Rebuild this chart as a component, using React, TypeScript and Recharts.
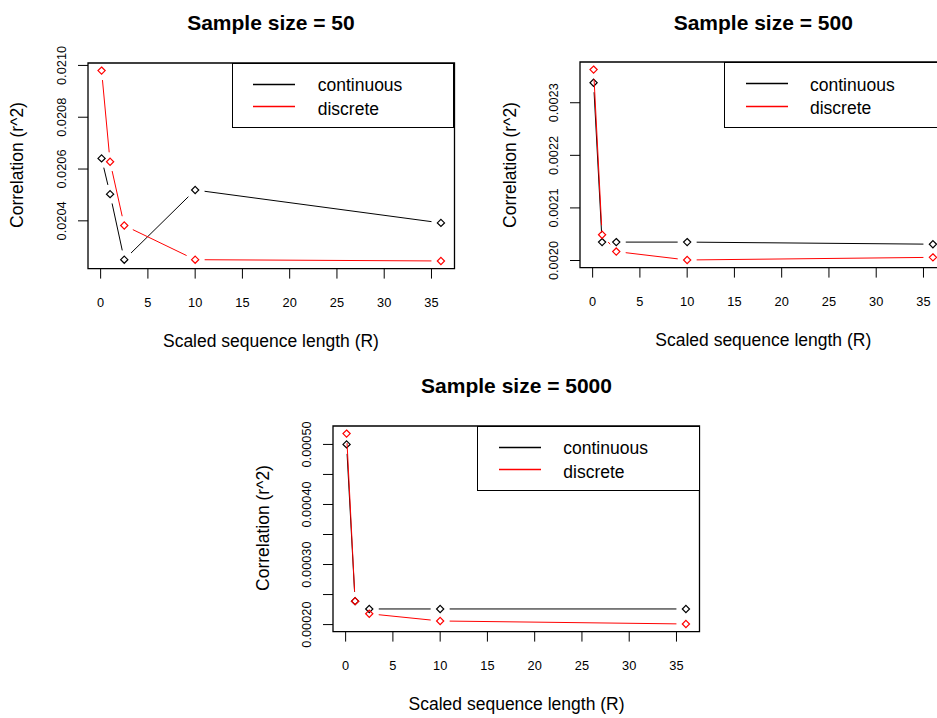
import React from 'react';
import { LineChart, Line, XAxis, YAxis, ReferenceArea } from 'recharts';

// ---- data ----
const xValues = [0.1, 1, 2.5, 10, 36];
const xTicks = [0, 5, 10, 15, 20, 25, 30, 35];

const continuous50 = [0.020641, 0.020503, 0.02025, 0.020519, 0.020392];
const discrete50 = [0.02098, 0.020628, 0.020382, 0.02025, 0.020245];
const yTicks50 = [0.0204, 0.0206, 0.0208, 0.021];

const continuous500 = [0.002338, 0.002035, 0.002035, 0.002035, 0.002031];
const discrete500 = [0.002363, 0.002049, 0.002017, 0.002001, 0.002006];
const yTicks500 = [0.002, 0.0021, 0.0022, 0.0023];

const continuous5000 = [0.0005, 0.000239, 0.000226, 0.000226, 0.000226];
const discrete5000 = [0.000518, 0.000239, 0.000218, 0.000206, 0.000201];
const yTicks5000 = [0.0002, 0.00025, 0.0003, 0.00035, 0.0004, 0.00045, 0.0005];

const seriesNames = ['continuous', 'discrete'];
const seriesColors = ['#000000', '#ff0000'];

// ---- layout ----
const FONT = '"Liberation Sans", Arial, sans-serif';
const ML = 90;
const MT = 62;
const PW = 366.5;
const PH = 205.6;
const MR = 10;
const MB = 92;
const AXW = 30;
const GAP = 9.5;
const DS = 3.6;
const TICK_FONT = 12.8;

const pad = (vals: number[]) => {
  const lo = Math.min(...vals);
  const hi = Math.max(...vals);
  const d = (hi - lo) * 0.04;
  return [lo - d, hi + d];
};

// R type="b": open diamonds, connecting segments stop short of each point.
// Point positions (cx, cy) come from Recharts' own scales.
const makeDot = (color: string) => {
  const prev: ({ x: number; y: number } | undefined)[] = [];
  return (props: any) => {
    const { cx, cy, payload } = props;
    let index = typeof props.index === 'number' ? props.index : -1;
    if (payload && typeof payload.x === 'number') {
      const k = xValues.indexOf(payload.x);
      if (k >= 0) index = k;
    }
    if (cx == null || cy == null) return <g key={`e-${index}`} />;
    prev[index] = { x: cx, y: cy };
    let seg: React.ReactNode = null;
    const p = index > 0 ? prev[index - 1] : undefined;
    if (p) {
      const dx = cx - p.x;
      const dy = cy - p.y;
      const L = Math.hypot(dx, dy);
      if (L > 2 * GAP) {
        const ux = dx / L;
        const uy = dy / L;
        seg = (
          <line
            x1={p.x + ux * GAP}
            y1={p.y + uy * GAP}
            x2={cx - ux * GAP}
            y2={cy - uy * GAP}
            stroke={color}
            strokeWidth={1}
          />
        );
      }
    }
    return (
      <g key={`d-${index}`}>
        {seg}
        <path
          d={`M${cx},${cy - DS} L${cx + DS},${cy} L${cx},${cy + DS} L${cx - DS},${cy} Z`}
          fill="none"
          stroke={color}
          strokeWidth={1.2}
        />
      </g>
    );
  };
};

const XTick = (props: any) => {
  const { x, y, payload } = props;
  return (
    <text x={x} y={y} dy="0.35em" textAnchor="middle" fontSize={TICK_FONT} fontFamily={FONT} fill="#000">
      {payload.value}
    </text>
  );
};

const makeYTick = (digits: number, every: number, ticks: number[]) => (props: any) => {
  const { x, y, payload } = props;
  const idx = ticks.findIndex((t) => Math.abs(t - Number(payload.value)) < 1e-12);
  if (idx % every !== 0) return <g />;
  return (
    <text
      x={x}
      y={y}
      dy="0.35em"
      textAnchor="middle"
      fontSize={TICK_FONT}
      fontFamily={FONT}
      fill="#000"
      transform={`rotate(-90, ${x}, ${y})`}
    >
      {Number(payload.value).toFixed(digits)}
    </text>
  );
};

type PanelProps = {
  title: string;
  left: number;
  top: number;
  cont: number[];
  disc: number[];
  yTicks: number[];
  digits: number;
  every: number;
};

function Panel({ title, left, top, cont, disc, yTicks, digits, every }: PanelProps) {
  const data = xValues.map((x, i) => ({ x, continuous: cont[i], discrete: disc[i] }));
  const yDom = pad([...cont, ...disc]);
  const xDom = pad(xValues);
  const W = ML + PW + MR;
  const H = MT + PH + MB;
  const legW = 222.5;
  const legH = 65.6;

  return (
    <div style={{ position: 'absolute', left: left - ML, top: top - MT, width: W, height: H }}>
      <LineChart
        width={W}
        height={H}
        data={data}
        margin={{ top: MT, left: ML - AXW, right: MR, bottom: MB - AXW }}
      >
        <XAxis
          type="number"
          dataKey="x"
          domain={xDom}
          ticks={xTicks}
          axisLine={false}
          tickSize={10}
          tickMargin={24.4}
          height={AXW}
          stroke="#000"
          tick={<XTick />}
          interval={0}
        />
        <YAxis
          type="number"
          domain={yDom}
          ticks={yTicks}
          axisLine={false}
          tickSize={10}
          tickMargin={16.5}
          width={AXW}
          stroke="#000"
          tick={makeYTick(digits, every, yTicks)}
          interval={0}
        />
        <Line
          dataKey="continuous"
          stroke="transparent"
          strokeWidth={1}
          dot={makeDot(seriesColors[0])}
          activeDot={false}
          isAnimationActive={false}
        />
        <Line
          dataKey="discrete"
          stroke="transparent"
          strokeWidth={1}
          dot={makeDot(seriesColors[1])}
          activeDot={false}
          isAnimationActive={false}
        />
        <ReferenceArea
          x1={xDom[0]}
          x2={xDom[1]}
          y1={yDom[0]}
          y2={yDom[1]}
          fill="none"
          fillOpacity={0}
          stroke="#000"
          strokeWidth={1.3}
          strokeOpacity={1}
        />
      </LineChart>
      <div
        style={{
          position: 'absolute',
          left: ML,
          width: PW,
          top: MT - 40.5,
          transform: 'translateY(-50%)',
          textAlign: 'center',
          fontFamily: FONT,
          fontWeight: 'bold',
          fontSize: 21,
          lineHeight: 1,
          color: '#000',
          whiteSpace: 'nowrap',
        }}
      >
        {title}
      </div>
      <div
        style={{
          position: 'absolute',
          left: ML,
          width: PW,
          top: MT + PH + 73.4,
          transform: 'translateY(-50%)',
          textAlign: 'center',
          fontFamily: FONT,
          fontSize: 17.5,
          lineHeight: 1,
          color: '#000',
          whiteSpace: 'nowrap',
        }}
      >
        Scaled sequence length (R)
      </div>
      <div
        style={{
          position: 'absolute',
          left: ML - 69.4,
          top: MT + PH / 2,
          transform: 'translate(-50%, -50%) rotate(-90deg)',
          fontFamily: FONT,
          fontSize: 17.5,
          lineHeight: 1,
          color: '#000',
          whiteSpace: 'nowrap',
        }}
      >
        Correlation (r^2)
      </div>
      <div
        style={{
          position: 'absolute',
          left: ML + PW - legW,
          top: MT,
          width: legW,
          height: legH,
          boxSizing: 'border-box',
          border: '1.3px solid #000',
          background: '#fff',
        }}
      >
        {seriesNames.map((name, i) => (
          <React.Fragment key={name}>
            <svg
              style={{ position: 'absolute', left: 20.5, top: 21 + i * 22.4 - 2, overflow: 'visible' }}
              width={43}
              height={4}
            >
              <line x1={0} y1={1.5} x2={42} y2={1.5} stroke={seriesColors[i]} strokeWidth={1.3} />
            </svg>
            <div
              style={{
                position: 'absolute',
                left: 85,
                top: 22.8 + i * 23.2,
                transform: 'translateY(-50%)',
                fontFamily: FONT,
                fontSize: 17.5,
                lineHeight: 1,
                color: '#000',
                whiteSpace: 'nowrap',
              }}
            >
              {name}
            </div>
          </React.Fragment>
        ))}
      </div>
    </div>
  );
}

export default function App() {
  return (
    <div
      style={{
        position: 'absolute',
        left: 0,
        top: 0,
        width: 937,
        height: 718,
        overflow: 'hidden',
        background: '#fff',
      }}
    >
      <Panel
        title="Sample size = 50"
        left={87.7}
        top={62.7}
        cont={continuous50}
        disc={discrete50}
        yTicks={yTicks50}
        digits={4}
        every={1}
      />
      <Panel
        title="Sample size = 500"
        left={580}
        top={62.3}
        cont={continuous500}
        disc={discrete500}
        yTicks={yTicks500}
        digits={4}
        every={1}
      />
      <Panel
        title="Sample size = 5000"
        left={333.3}
        top={425.7}
        cont={continuous5000}
        disc={discrete5000}
        yTicks={yTicks5000}
        digits={5}
        every={2}
      />
    </div>
  );
}
